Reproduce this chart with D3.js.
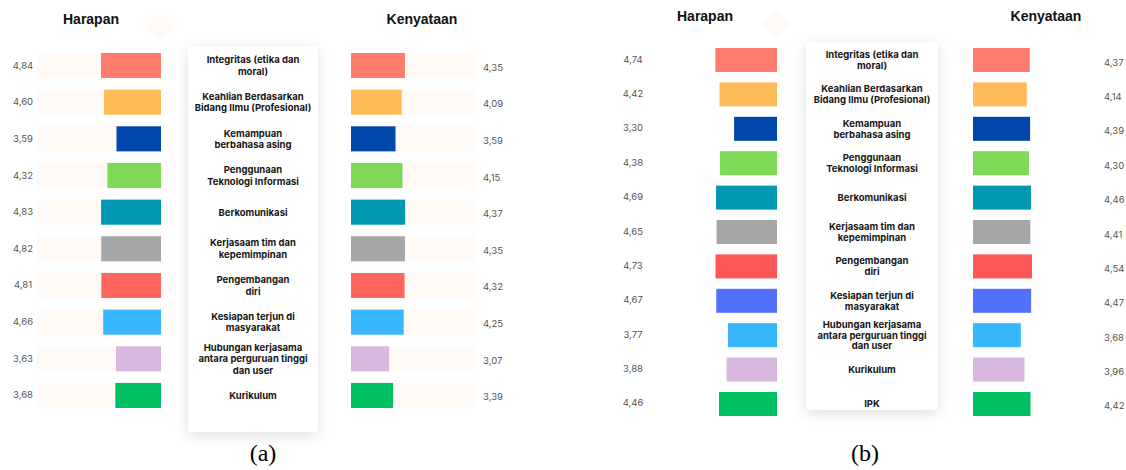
<!DOCTYPE html>
<html>
<head>
<meta charset="utf-8">
<script src="https://cdn.jsdelivr.net/npm/d3@7/dist/d3.min.js"></script>
<style>
  html, body { margin: 0; padding: 0; background: #ffffff; }
  svg { display: block; }
</style>
</head>
<body>
<svg id="chart" width="1126" height="470"></svg>
<script>
// ---------- DATA ----------
const categoriesA = [
  "Integritas (etika dan\nmoral)",
  "Keahlian Berdasarkan\nBidang Ilmu (Profesional)",
  "Kemampuan\nberbahasa asing",
  "Penggunaan\nTeknologi Informasi",
  "Berkomunikasi",
  "Kerjasaam tim dan\nkepemimpinan",
  "Pengembangan\ndiri",
  "Kesiapan terjun di\nmasyarakat",
  "Hubungan kerjasama\nantara perguruan tinggi\ndan user",
  "Kurikulum"
];
const harapanA   = [4.84, 4.60, 3.59, 4.32, 4.83, 4.82, 4.81, 4.66, 3.63, 3.68];
const kenyataanA = [4.35, 4.09, 3.59, 4.15, 4.37, 4.35, 4.32, 4.25, 3.07, 3.39];
const colorsA = ["#ff7b6e", "#ffbb58", "#0047ab", "#7ed957", "#0097b2",
                 "#a6a6a6", "#ff665e", "#38b6ff", "#d9b8e0", "#00bf63"];

const categoriesB = [
  "Integritas (etika dan\nmoral)",
  "Keahlian Berdasarkan\nBidang Ilmu (Profesional)",
  "Kemampuan\nberbahasa asing",
  "Penggunaan\nTeknologi Informasi",
  "Berkomunikasi",
  "Kerjasaam tim dan\nkepemimpinan",
  "Pengembangan\ndiri",
  "Kesiapan terjun di\nmasyarakat",
  "Hubungan kerjasama\nantara perguruan tinggi\ndan user",
  "Kurikulum",
  "IPK"
];
const harapanB   = [4.74, 4.42, 3.30, 4.38, 4.69, 4.65, 4.73, 4.67, 3.77, 3.88, 4.46];
const kenyataanB = [4.37, 4.14, 4.39, 4.30, 4.46, 4.41, 4.54, 4.47, 3.68, 3.96, 4.42];
const colorsB = ["#ff7b6e", "#ffbb58", "#0047ab", "#7ed957", "#0097b2",
                 "#a6a6a6", "#ff5757", "#5271ff", "#38b6ff", "#d9b8e0", "#00bf63"];

const seriesTitles = ["Harapan", "Kenyataan"];
const captions = ["(a)", "(b)"];
const fmt = v => d3.format(".2f")(v).replace(".", ",");

// ---------- DRAW ----------
const svg = d3.select("#chart");
const defs = svg.append("defs");
const f = defs.append("filter").attr("id", "cardShadow")
  .attr("x", "-30%").attr("y", "-10%").attr("width", "160%").attr("height", "120%");
f.append("feDropShadow").attr("dx", 0).attr("dy", 3).attr("stdDeviation", 7)
  .attr("flood-color", "#000").attr("flood-opacity", 0.13);

function panel(cfg) {
  const g = svg.append("g");
  const n = cfg.categories.length;
  const y = d3.scaleBand().domain(d3.range(n)).range([cfg.top, cfg.bottom]).paddingInner(cfg.padInner);
  const x = d3.scaleLinear().domain([0, 10]).range([0, cfg.trackW]);

  // decorative faint diamond
  g.append("rect")
    .attr("x", -11).attr("y", -11).attr("width", 22).attr("height", 22)
    .attr("transform", `translate(${cfg.diamond[0]},${cfg.diamond[1]}) rotate(45)`)
    .attr("fill", "#fefaf6");

  // titles
  seriesTitles.forEach((t, k) => {
    g.append("text").attr("x", cfg.titleX[k]).attr("y", cfg.titleY)
      .attr("text-anchor", "middle").attr("font-family", "Liberation Sans, Arial, sans-serif")
      .attr("font-weight", "bold").attr("font-size", 14).attr("fill", "#111")
      .text(t);
  });

  // label card
  g.append("rect")
    .attr("x", cfg.card[0]).attr("y", cfg.card[1])
    .attr("width", cfg.card[2]).attr("height", cfg.card[3])
    .attr("rx", 4).attr("fill", "#ffffff").attr("filter", "url(#cardShadow)");

  // tracks
  if (cfg.track) {
    g.selectAll(".tl").data(cfg.harapan).join("rect")
      .attr("x", cfg.leftEnd - cfg.trackW).attr("y", (d, i) => y(i))
      .attr("width", cfg.trackW).attr("height", y.bandwidth()).attr("fill", cfg.track);
    g.selectAll(".tr").data(cfg.kenyataan).join("rect")
      .attr("x", cfg.rightStart).attr("y", (d, i) => y(i))
      .attr("width", cfg.trackW).attr("height", y.bandwidth()).attr("fill", cfg.track);
  }

  // Harapan bars (right-aligned)
  g.selectAll(".hb").data(cfg.harapan).join("rect")
    .attr("x", d => cfg.leftEnd - x(d)).attr("y", (d, i) => y(i))
    .attr("width", d => x(d)).attr("height", y.bandwidth())
    .attr("fill", (d, i) => cfg.colors[i]);

  // Kenyataan bars (left-aligned)
  g.selectAll(".kb").data(cfg.kenyataan).join("rect")
    .attr("x", cfg.rightStart).attr("y", (d, i) => y(i))
    .attr("width", d => x(d)).attr("height", y.bandwidth())
    .attr("fill", (d, i) => cfg.colors[i]);

  // value labels
  g.selectAll(".hv").data(cfg.harapan).join("text")
    .attr("x", cfg.leftValX).attr("y", (d, i) => y(i) + y.bandwidth() / 2 + cfg.leftValDy)
    .attr("text-anchor", "middle").attr("font-family", "Inter, sans-serif")
    .attr("font-size", 9.5).attr("fill", "#555").text(d => fmt(d));
  g.selectAll(".kv").data(cfg.kenyataan).join("text")
    .attr("x", cfg.rightValX).attr("y", (d, i) => y(i) + y.bandwidth() / 2 + cfg.rightValDy)
    .attr("text-anchor", "start").attr("font-family", "Inter, sans-serif")
    .attr("font-size", 9.5).attr("fill", "#555").text(d => fmt(d));

  // category labels
  const lh = cfg.lineH;
  g.selectAll(".cl").data(cfg.categories).join("text")
    .attr("text-anchor", "middle").attr("font-family", "Inter, sans-serif")
    .attr("font-weight", 700).attr("font-size", 9.5).attr("fill", "#161616")
    .each(function (d, i) {
      const lines = d.split("\n");
      const cy = y(i) + y.bandwidth() / 2;
      const startY = cy - (lines.length - 1) * lh / 2 + 3.4;
      d3.select(this).selectAll("tspan").data(lines).join("tspan")
        .attr("x", cfg.labelX).attr("y", (l, k) => startY + k * lh).text(l => l);
    });

  // caption
  g.append("text").attr("x", cfg.captionX).attr("y", 461)
    .attr("text-anchor", "middle").attr("font-family", "Liberation Serif, Times New Roman, serif")
    .attr("font-size", 24).attr("fill", "#000").text(cfg.caption);
}

panel({
  categories: categoriesA, harapan: harapanA, kenyataan: kenyataanA, colors: colorsA,
  top: 53, bottom: 408, padInner: 0.316, trackW: 124,
  leftEnd: 161, rightStart: 351, track: "#fffaf6",
  leftValX: 23, leftValDy: 3, rightValX: 483, rightValDy: 5,
  labelX: 253, lineH: 11.5,
  titleX: [91, 422], titleY: 24, diamond: [160, 27],
  card: [188, 46, 130, 386], captionX: 263, caption: captions[0]
});

panel({
  categories: categoriesB, harapan: harapanB, kenyataan: kenyataanB, colors: colorsB,
  top: 48, bottom: 416, padInner: 0.302, trackW: 130,
  leftEnd: 777, rightStart: 973, track: null,
  leftValX: 633, leftValDy: 2.5, rightValX: 1104, rightValDy: 5.5,
  labelX: 872, lineH: 10.8,
  titleX: [705, 1046], titleY: 21, diamond: [777, 24],
  card: [806, 42, 132, 368], captionX: 865, caption: captions[1]
});
</script>
</body>
</html>
